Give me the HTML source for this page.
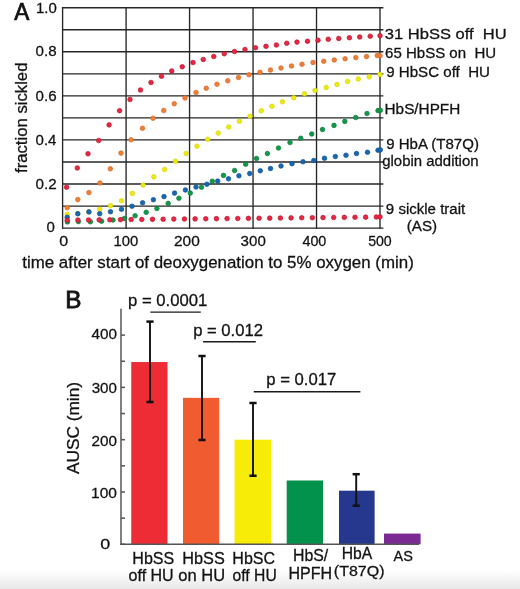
<!DOCTYPE html>
<html><head><meta charset="utf-8"><style>
html,body{margin:0;padding:0;background:#fff;}
body{width:520px;height:589px;overflow:hidden;position:relative;font-family:"Liberation Sans",sans-serif;}
.shade{position:absolute;left:0;top:570px;width:520px;height:19px;background:linear-gradient(#ffffff,#e8e8e8);}
svg{position:absolute;left:0;top:0;}
.tx{opacity:0.995;}
</style></head><body>
<div class="shade"></div>
<svg width="520" height="589" viewBox="0 0 520 589">
<g stroke="#262626" stroke-width="1.35"><line x1="62.00" y1="7.70" x2="383.40" y2="7.70"/><line x1="62.00" y1="29.74" x2="383.40" y2="29.74"/><line x1="62.00" y1="51.78" x2="383.40" y2="51.78"/><line x1="62.00" y1="73.82" x2="383.40" y2="73.82"/><line x1="62.00" y1="95.86" x2="383.40" y2="95.86"/><line x1="62.00" y1="117.90" x2="383.40" y2="117.90"/><line x1="62.00" y1="139.94" x2="383.40" y2="139.94"/><line x1="62.00" y1="161.98" x2="383.40" y2="161.98"/><line x1="62.00" y1="184.02" x2="383.40" y2="184.02"/><line x1="62.00" y1="206.06" x2="383.40" y2="206.06"/><line x1="62.00" y1="228.10" x2="383.40" y2="228.10"/><line x1="62.60" y1="7.10" x2="62.60" y2="228.70"/><line x1="126.08" y1="7.10" x2="126.08" y2="228.70"/><line x1="189.56" y1="7.10" x2="189.56" y2="228.70"/><line x1="253.04" y1="7.10" x2="253.04" y2="228.70"/><line x1="316.52" y1="7.10" x2="316.52" y2="228.70"/><line x1="380.00" y1="7.10" x2="380.00" y2="228.70"/></g><g fill="#119a49" stroke="#0b7a38" stroke-width="0.7"><circle cx="67.40" cy="221.90" r="2.3"/><circle cx="78.40" cy="221.60" r="2.3"/><circle cx="90.40" cy="221.80" r="2.3"/><circle cx="101.60" cy="221.20" r="2.3"/><circle cx="113.00" cy="220.00" r="2.3"/><circle cx="124.30" cy="218.50" r="2.3"/><circle cx="135.10" cy="215.80" r="2.3"/><circle cx="146.20" cy="212.30" r="2.3"/><circle cx="156.90" cy="208.50" r="2.3"/><circle cx="168.20" cy="203.40" r="2.3"/><circle cx="178.90" cy="198.20" r="2.3"/><circle cx="190.30" cy="193.10" r="2.3"/><circle cx="201.50" cy="187.20" r="2.3"/><circle cx="212.30" cy="181.20" r="2.3"/><circle cx="223.50" cy="175.40" r="2.3"/><circle cx="234.60" cy="170.50" r="2.3"/><circle cx="245.70" cy="164.20" r="2.3"/><circle cx="256.50" cy="158.50" r="2.3"/><circle cx="267.40" cy="153.50" r="2.3"/><circle cx="278.50" cy="148.00" r="2.3"/><circle cx="290.00" cy="142.50" r="2.3"/><circle cx="300.75" cy="138.25" r="2.3"/><circle cx="311.75" cy="134.00" r="2.3"/><circle cx="322.50" cy="129.50" r="2.3"/><circle cx="334.00" cy="125.40" r="2.3"/><circle cx="344.80" cy="121.40" r="2.3"/><circle cx="355.75" cy="117.50" r="2.3"/><circle cx="367.00" cy="113.50" r="2.3"/><circle cx="378.00" cy="110.60" r="2.3"/><circle cx="380.30" cy="110.30" r="2.3"/></g><g fill="#ecea10" stroke="#d8d40c" stroke-width="0.7"><circle cx="67.20" cy="214.20" r="2.3"/><circle cx="77.80" cy="213.50" r="2.3"/><circle cx="88.90" cy="211.90" r="2.3"/><circle cx="99.70" cy="209.20" r="2.3"/><circle cx="110.50" cy="205.70" r="2.3"/><circle cx="121.50" cy="200.80" r="2.3"/><circle cx="132.30" cy="193.40" r="2.3"/><circle cx="143.10" cy="185.10" r="2.3"/><circle cx="153.80" cy="176.90" r="2.3"/><circle cx="164.60" cy="169.50" r="2.3"/><circle cx="175.50" cy="161.25" r="2.3"/><circle cx="186.20" cy="153.50" r="2.3"/><circle cx="196.90" cy="146.20" r="2.3"/><circle cx="207.70" cy="139.20" r="2.3"/><circle cx="218.20" cy="133.10" r="2.3"/><circle cx="228.75" cy="127.00" r="2.3"/><circle cx="239.50" cy="121.25" r="2.3"/><circle cx="250.00" cy="116.25" r="2.3"/><circle cx="261.25" cy="110.75" r="2.3"/><circle cx="272.00" cy="106.25" r="2.3"/><circle cx="282.50" cy="101.75" r="2.3"/><circle cx="293.75" cy="97.75" r="2.3"/><circle cx="304.50" cy="93.75" r="2.3"/><circle cx="315.00" cy="90.50" r="2.3"/><circle cx="326.25" cy="87.50" r="2.3"/><circle cx="337.00" cy="84.50" r="2.3"/><circle cx="347.60" cy="81.50" r="2.3"/><circle cx="358.30" cy="79.00" r="2.3"/><circle cx="369.20" cy="76.90" r="2.3"/><circle cx="379.90" cy="74.40" r="2.3"/></g><g fill="#1668b2" stroke="#0f5293" stroke-width="0.7"><circle cx="67.20" cy="217.30" r="2.3"/><circle cx="77.80" cy="213.70" r="2.3"/><circle cx="88.90" cy="211.90" r="2.3"/><circle cx="99.70" cy="213.70" r="2.3"/><circle cx="110.50" cy="211.75" r="2.3"/><circle cx="121.50" cy="209.20" r="2.3"/><circle cx="132.00" cy="206.20" r="2.3"/><circle cx="142.60" cy="202.80" r="2.3"/><circle cx="153.40" cy="199.70" r="2.3"/><circle cx="164.00" cy="196.60" r="2.3"/><circle cx="174.60" cy="193.10" r="2.3"/><circle cx="185.40" cy="190.00" r="2.3"/><circle cx="196.00" cy="187.00" r="2.3"/><circle cx="206.90" cy="184.20" r="2.3"/><circle cx="217.70" cy="181.10" r="2.3"/><circle cx="228.50" cy="178.80" r="2.3"/><circle cx="238.90" cy="175.80" r="2.3"/><circle cx="249.70" cy="173.50" r="2.3"/><circle cx="260.30" cy="170.80" r="2.3"/><circle cx="270.50" cy="168.50" r="2.3"/><circle cx="281.00" cy="166.00" r="2.3"/><circle cx="292.00" cy="163.75" r="2.3"/><circle cx="303.00" cy="161.75" r="2.3"/><circle cx="313.75" cy="160.50" r="2.3"/><circle cx="324.50" cy="158.25" r="2.3"/><circle cx="335.30" cy="156.50" r="2.3"/><circle cx="346.00" cy="155.20" r="2.3"/><circle cx="356.50" cy="153.50" r="2.3"/><circle cx="367.50" cy="152.25" r="2.3"/><circle cx="378.00" cy="150.20" r="2.3"/><circle cx="380.30" cy="149.90" r="2.3"/></g><g fill="#ee7f35" stroke="#d8692a" stroke-width="0.7"><circle cx="67.20" cy="207.70" r="2.3"/><circle cx="77.80" cy="199.60" r="2.3"/><circle cx="88.90" cy="192.60" r="2.3"/><circle cx="99.90" cy="183.00" r="2.3"/><circle cx="110.30" cy="168.80" r="2.3"/><circle cx="121.00" cy="153.10" r="2.3"/><circle cx="131.10" cy="139.80" r="2.3"/><circle cx="142.50" cy="128.25" r="2.3"/><circle cx="153.00" cy="118.25" r="2.3"/><circle cx="163.75" cy="110.50" r="2.3"/><circle cx="174.25" cy="103.75" r="2.3"/><circle cx="185.00" cy="98.00" r="2.3"/><circle cx="196.00" cy="92.50" r="2.3"/><circle cx="206.25" cy="88.25" r="2.3"/><circle cx="217.00" cy="84.25" r="2.3"/><circle cx="227.75" cy="80.75" r="2.3"/><circle cx="238.50" cy="77.50" r="2.3"/><circle cx="249.00" cy="74.75" r="2.3"/><circle cx="260.00" cy="72.25" r="2.3"/><circle cx="270.50" cy="70.00" r="2.3"/><circle cx="281.00" cy="68.00" r="2.3"/><circle cx="291.50" cy="66.00" r="2.3"/><circle cx="302.00" cy="64.25" r="2.3"/><circle cx="313.00" cy="62.50" r="2.3"/><circle cx="323.75" cy="61.25" r="2.3"/><circle cx="334.25" cy="60.00" r="2.3"/><circle cx="345.10" cy="58.80" r="2.3"/><circle cx="355.80" cy="57.60" r="2.3"/><circle cx="366.50" cy="56.60" r="2.3"/><circle cx="377.20" cy="55.50" r="2.3"/><circle cx="380.00" cy="55.75" r="2.3"/></g><g fill="#ea2640" stroke="#b8142c" stroke-width="0.7"><circle cx="66.60" cy="187.20" r="2.3"/><circle cx="77.30" cy="168.00" r="2.3"/><circle cx="88.00" cy="153.80" r="2.3"/><circle cx="98.70" cy="140.50" r="2.3"/><circle cx="109.10" cy="124.90" r="2.3"/><circle cx="119.60" cy="110.70" r="2.3"/><circle cx="130.00" cy="99.50" r="2.3"/><circle cx="140.50" cy="90.00" r="2.3"/><circle cx="151.00" cy="82.50" r="2.3"/><circle cx="161.50" cy="76.25" r="2.3"/><circle cx="171.75" cy="71.00" r="2.3"/><circle cx="182.25" cy="66.75" r="2.3"/><circle cx="193.00" cy="62.50" r="2.3"/><circle cx="203.25" cy="59.50" r="2.3"/><circle cx="213.75" cy="56.50" r="2.3"/><circle cx="224.25" cy="53.75" r="2.3"/><circle cx="234.50" cy="51.50" r="2.3"/><circle cx="245.00" cy="49.50" r="2.3"/><circle cx="255.50" cy="47.75" r="2.3"/><circle cx="266.00" cy="46.30" r="2.3"/><circle cx="276.40" cy="45.00" r="2.3"/><circle cx="286.75" cy="43.25" r="2.3"/><circle cx="297.00" cy="42.10" r="2.3"/><circle cx="307.50" cy="41.25" r="2.3"/><circle cx="318.00" cy="40.25" r="2.3"/><circle cx="328.25" cy="39.25" r="2.3"/><circle cx="338.75" cy="38.50" r="2.3"/><circle cx="349.40" cy="37.70" r="2.3"/><circle cx="359.70" cy="37.00" r="2.3"/><circle cx="370.20" cy="36.20" r="2.3"/><circle cx="380.00" cy="35.70" r="2.3"/></g><g fill="#ea2640" stroke="#b8142c" stroke-width="0.7"><circle cx="67.20" cy="220.20" r="2.3"/><circle cx="77.86" cy="220.09" r="2.3"/><circle cx="88.52" cy="219.98" r="2.3"/><circle cx="99.18" cy="219.87" r="2.3"/><circle cx="109.83" cy="219.76" r="2.3"/><circle cx="120.49" cy="219.65" r="2.3"/><circle cx="131.15" cy="219.55" r="2.3"/><circle cx="141.81" cy="219.44" r="2.3"/><circle cx="152.47" cy="219.33" r="2.3"/><circle cx="163.13" cy="219.22" r="2.3"/><circle cx="173.79" cy="219.11" r="2.3"/><circle cx="184.44" cy="219.00" r="2.3"/><circle cx="195.10" cy="218.89" r="2.3"/><circle cx="205.76" cy="218.78" r="2.3"/><circle cx="216.42" cy="218.67" r="2.3"/><circle cx="227.08" cy="218.56" r="2.3"/><circle cx="237.74" cy="218.46" r="2.3"/><circle cx="248.40" cy="218.35" r="2.3"/><circle cx="259.06" cy="218.24" r="2.3"/><circle cx="269.71" cy="218.13" r="2.3"/><circle cx="280.37" cy="218.02" r="2.3"/><circle cx="291.03" cy="217.91" r="2.3"/><circle cx="301.69" cy="217.80" r="2.3"/><circle cx="312.35" cy="217.69" r="2.3"/><circle cx="323.01" cy="217.58" r="2.3"/><circle cx="333.67" cy="217.47" r="2.3"/><circle cx="344.32" cy="217.36" r="2.3"/><circle cx="354.98" cy="217.26" r="2.3"/><circle cx="365.64" cy="217.15" r="2.3"/><circle cx="376.30" cy="217.04" r="2.3"/><circle cx="380.00" cy="216.90" r="2.3"/></g><rect x="131.25" y="362.03" width="36.25" height="182.27" fill="#ee2c36"/><rect x="183.0" y="397.86" width="36.25" height="146.44" fill="#f05c30"/><rect x="234.5" y="439.70" width="36.75" height="104.60" fill="#f7eb08"/><rect x="286.7" y="480.49" width="36.30" height="63.81" fill="#03924b"/><rect x="339.0" y="490.69" width="35.60" height="53.61" fill="#26388e"/><rect x="384.0" y="533.58" width="36.60" height="10.72" fill="#7b2a94"/><g stroke="#555" stroke-width="1.5"><line x1="121.0" y1="308.7" x2="121.0" y2="545"/><line x1="120.25" y1="544.3" x2="419" y2="544.3"/><line x1="121.0" y1="544.30" x2="125.0" y2="544.30"/><line x1="121.0" y1="518.15" x2="125.0" y2="518.15"/><line x1="121.0" y1="492.00" x2="125.0" y2="492.00"/><line x1="121.0" y1="465.85" x2="125.0" y2="465.85"/><line x1="121.0" y1="439.70" x2="125.0" y2="439.70"/><line x1="121.0" y1="413.55" x2="125.0" y2="413.55"/><line x1="121.0" y1="387.40" x2="125.0" y2="387.40"/><line x1="121.0" y1="361.25" x2="125.0" y2="361.25"/><line x1="121.0" y1="335.10" x2="125.0" y2="335.10"/></g><g stroke="#111" stroke-width="2.5"><line x1="150.0" y1="321.6" x2="150.0" y2="402.0" stroke-width="1.9"/><line x1="146.4" y1="321.6" x2="153.6" y2="321.6"/><line x1="146.4" y1="402.0" x2="153.6" y2="402.0"/><line x1="202.0" y1="356.0" x2="202.0" y2="440.0" stroke-width="1.9"/><line x1="198.4" y1="356.0" x2="205.6" y2="356.0"/><line x1="198.4" y1="440.0" x2="205.6" y2="440.0"/><line x1="253.0" y1="403.0" x2="253.0" y2="475.75" stroke-width="1.9"/><line x1="249.4" y1="403.0" x2="256.6" y2="403.0"/><line x1="249.4" y1="475.75" x2="256.6" y2="475.75"/><line x1="356.2" y1="474.2" x2="356.2" y2="505.7" stroke-width="1.9"/><line x1="352.59999999999997" y1="474.2" x2="359.8" y2="474.2"/><line x1="352.59999999999997" y1="505.7" x2="359.8" y2="505.7"/></g><g stroke="#1a1a1a" stroke-width="1.4"><line x1="150.4" y1="312.1" x2="200.8" y2="312.1"/><line x1="203.1" y1="341.7" x2="255.8" y2="341.7"/><line x1="253.75" y1="391.7" x2="360.4" y2="391.7"/></g><g class="tx" font-family="Liberation Sans, sans-serif" stroke="#111" stroke-width="0.28"><text transform="translate(14.30 19.50) scale(0.9648 1)" font-size="23.40" fill="#111" stroke-width="0.75">A</text><text transform="translate(36.00 13.30) scale(0.9787 1)" font-size="15.29" fill="#111">1.0</text><text transform="translate(35.55 55.90) scale(0.9796 1)" font-size="15.43" fill="#111">0.8</text><text transform="translate(35.55 100.70) scale(0.9934 1)" font-size="15.21" fill="#111">0.6</text><text transform="translate(35.55 145.00) scale(0.9722 1)" font-size="15.43" fill="#111">0.4</text><text transform="translate(35.54 188.85) scale(0.9872 1)" font-size="15.43" fill="#111">0.2</text><text transform="translate(46.60 231.70) scale(1.0000 1)" font-size="15.00" fill="#111">0</text><text transform="translate(27.10 172.97) rotate(-90) scale(1.0083 1)" font-size="16.58" fill="#111">fraction sickled</text><text transform="translate(59.16 245.90) scale(1.0797 1)" font-size="14.86" fill="#111">0</text><text transform="translate(113.51 245.90) scale(0.9988 1)" font-size="14.86" fill="#111">100</text><text transform="translate(174.03 245.80) scale(1.0394 1)" font-size="14.86" fill="#111">200</text><text transform="translate(240.60 245.80) scale(1.0160 1)" font-size="14.86" fill="#111">300</text><text transform="translate(302.41 245.80) scale(0.9657 1)" font-size="14.86" fill="#111">400</text><text transform="translate(368.13 245.80) scale(0.9525 1)" font-size="14.86" fill="#111">500</text><text transform="translate(22.26 268.20) scale(1.0644 1)" font-size="15.89" fill="#111">time after start of deoxygenation to 5% oxygen (min)</text><text transform="translate(384.84 38.50) scale(1.1070 1)" font-size="14.93" fill="#111" xml:space="preserve">31 HbSS off  HU</text><text transform="translate(385.05 58.40) scale(1.0074 1)" font-size="14.93" fill="#111" xml:space="preserve">65 HbSS on  HU</text><text transform="translate(386.14 77.30) scale(1.0125 1)" font-size="14.93" fill="#111" xml:space="preserve">9 HbSC off  HU</text><text transform="translate(384.57 114.30) scale(1.0351 1)" font-size="14.79" fill="#111">HbS/HPFH</text><text transform="translate(386.25 148.80) scale(1.0353 1)" font-size="14.52" fill="#111">9 HbA (T87Q)</text><text transform="translate(382.20 166.00) scale(1.0107 1)" font-size="14.79" fill="#111">globin addition</text><text transform="translate(385.85 214.40) scale(1.0658 1)" font-size="14.11" fill="#111">9 sickle trait</text><text transform="translate(406.79 230.90) scale(1.0744 1)" font-size="14.11" fill="#111">(AS)</text><text transform="translate(65.15 308.40) scale(1.0537 1)" font-size="23.10" fill="#111" stroke-width="0.75">B</text><text transform="translate(128.03 305.80) scale(1.0435 1)" font-size="16.00" fill="#111">p = 0.0001</text><text transform="translate(193.13 336.20) scale(1.0324 1)" font-size="16.14" fill="#111">p = 0.012</text><text transform="translate(266.23 385.20) scale(1.0622 1)" font-size="15.71" fill="#111">p = 0.017</text><text transform="translate(91.49 338.90) scale(0.9903 1)" font-size="15.43" fill="#111">400</text><text transform="translate(91.69 392.90) scale(1.0009 1)" font-size="15.14" fill="#111">300</text><text transform="translate(91.54 445.90) scale(1.0073 1)" font-size="15.14" fill="#111">200</text><text transform="translate(91.06 497.60) scale(1.0268 1)" font-size="15.14" fill="#111">100</text><text transform="translate(100.28 548.70) scale(1.1832 1)" font-size="15.14" fill="#111">0</text><text transform="translate(78.75 474.10) rotate(-90) scale(1.0560 1)" font-size="16.37" fill="#111">AUSC (min)</text><text transform="translate(132.31 563.60) scale(1.0197 1)" font-size="15.75" fill="#111">HbSS</text><text transform="translate(128.56 580.90) scale(1.0180 1)" font-size="15.75" fill="#111">off HU</text><text transform="translate(182.20 563.60) scale(1.0350 1)" font-size="15.75" fill="#111">HbSS</text><text transform="translate(178.34 581.40) scale(0.9991 1)" font-size="16.52" fill="#111">on HU</text><text transform="translate(232.31 563.60) scale(1.0197 1)" font-size="15.75" fill="#111">HbSC</text><text transform="translate(232.57 580.90) scale(0.9968 1)" font-size="15.75" fill="#111">off HU</text><text transform="translate(293.03 561.20) scale(0.9637 1)" font-size="16.44" fill="#111">HbS/</text><text transform="translate(288.52 578.70) scale(0.9980 1)" font-size="16.09" fill="#111">HPFH</text><text transform="translate(341.64 559.10) scale(0.9965 1)" font-size="15.75" fill="#111">HbA</text><text transform="translate(333.84 576.40) scale(1.0458 1)" font-size="15.30" fill="#111">(T87Q)</text><text transform="translate(393.50 561.20) scale(0.9757 1)" font-size="14.86" fill="#111">AS</text></g>
</svg>
</body></html>
